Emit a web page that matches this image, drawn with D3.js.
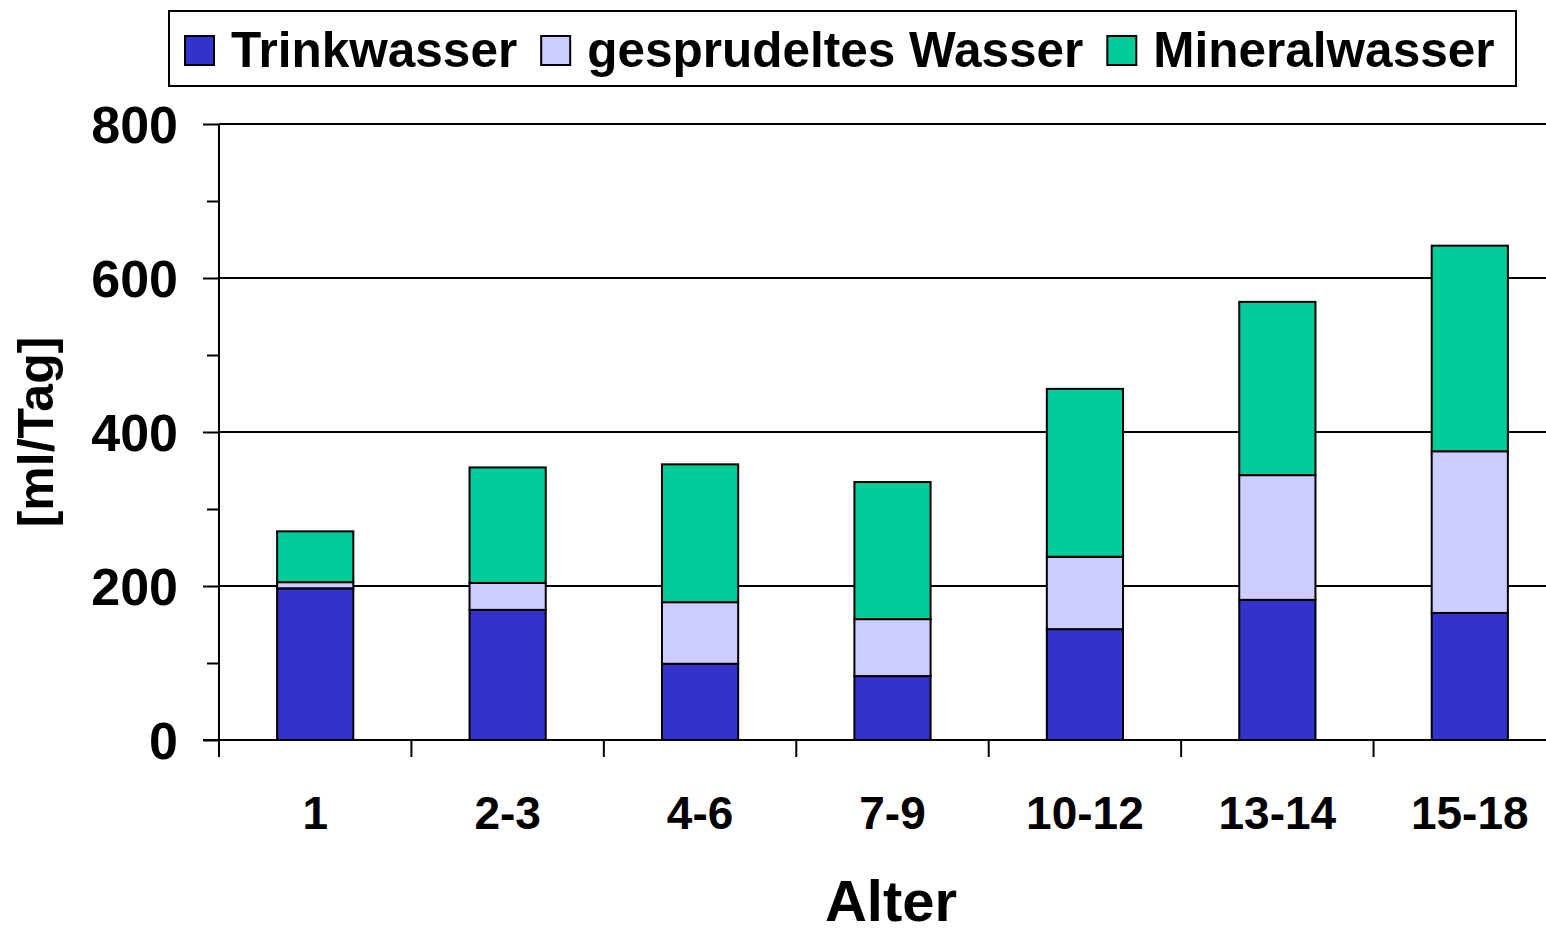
<!DOCTYPE html>
<meta charset="utf-8">
<style>
body{ margin:0; background:#fff; }
text{ font-family: Arial, "Liberation Sans", sans-serif; font-weight:bold; fill:#000; }
.grid line{ stroke:#000; stroke-width:2px; }
.axis path, .axis line{ stroke:#000; stroke-width:2px; }
.bars rect{ stroke:#000; stroke-width:2px; }
</style>
<body>
<script src="https://d3js.org/d3.v7.min.js"></script>
<script>
// Alter (Jahre) und Wasserverbrauch in ml/Tag
var categories = ["1", "2-3", "4-6", "7-9", "10-12", "13-14", "15-18"];
var seriesNames = ["Trinkwasser", "gesprudeltes Wasser", "Mineralwasser"];
var trinkwasser = [197, 169, 99, 83, 144, 182, 165];
var gesprudelt  = [8, 35, 80, 74, 94, 162, 210];
var mineral     = [66, 150, 179, 178, 218, 225, 267];
var yTicks      = [0, 200, 400, 600, 800];
var yMinorTicks = [100, 300, 500, 700];

var colors = ["#3333CC", "#CCCCFF", "#00CC99"];

var W = 1546, H = 928;
var svg = d3.select("body").append("svg").attr("width", W).attr("height", H);

var plotLeft = 219, plotRight = 1566, plotTop = 124, plotBottom = 740;

var x = d3.scaleBand().domain(categories).range([plotLeft, plotRight])
  .paddingInner(0.604).paddingOuter(0.302);
var y = d3.scaleLinear().domain([0, 800]).range([plotBottom, plotTop]);

// Tabelle fuer d3.stack
var table = categories.map(function(c, i){
  return {cat: c, "Trinkwasser": trinkwasser[i], "gesprudeltes Wasser": gesprudelt[i], "Mineralwasser": mineral[i]};
});
var stacked = d3.stack().keys(seriesNames)(table);

// Gitterlinien
svg.append("g").attr("class", "grid")
  .selectAll("line").data(yTicks.filter(d => d > 0)).join("line")
  .attr("x1", plotLeft).attr("x2", W + 20)
  .attr("y1", d => y(d)).attr("y2", d => y(d));

// Balken
svg.append("g").attr("class", "bars")
  .selectAll("g").data(stacked).join("g")
  .attr("fill", (d, i) => colors[i])
  .selectAll("rect").data(d => d).join("rect")
  .attr("x", d => x(d.data.cat))
  .attr("width", x.bandwidth())
  .attr("y", d => y(d[1]))
  .attr("height", d => y(d[0]) - y(d[1]));

// y-Achse: kleine Striche
svg.append("g").attr("class", "axis")
  .attr("transform", "translate(" + plotLeft + ",0)")
  .call(d3.axisLeft(y).tickValues(yMinorTicks).tickSize(12).tickSizeOuter(0).tickFormat(""))
  .call(g => g.select(".domain").remove());

// y-Achse: Hauptstriche mit Beschriftung
var yAxis = svg.append("g").attr("class", "axis")
  .attr("transform", "translate(" + plotLeft + ",0)")
  .call(d3.axisLeft(y).tickValues(yTicks).tickSize(16).tickSizeOuter(0).tickPadding(25));
yAxis.select(".domain").attr("d", "M0," + (plotBottom + 17) + "V" + plotTop);
yAxis.selectAll("text").style("font-size", "52px").attr("dy", "0.35em");

// x-Achse
var xAxis = svg.append("g").attr("class", "axis");
xAxis.append("line")
  .attr("x1", plotLeft - 16).attr("x2", W + 20)
  .attr("y1", plotBottom).attr("y2", plotBottom);
var bounds = categories.map(c => x(c) + x.bandwidth() / 2 + x.step() / 2);
xAxis.selectAll("line.tick").data(bounds).join("line").attr("class", "tick")
  .attr("x1", d => d).attr("x2", d => d)
  .attr("y1", plotBottom).attr("y2", plotBottom + 17);

svg.append("g").selectAll("text").data(categories).join("text")
  .attr("x", d => x(d) + x.bandwidth() / 2)
  .attr("y", 829)
  .attr("text-anchor", "middle")
  .style("font-size", "46px")
  .text(d => d);

// Achsentitel
svg.append("text")
  .attr("x", (plotLeft + 1563) / 2).attr("y", 921)
  .attr("text-anchor", "middle")
  .style("font-size", "58px")
  .text("Alter");

svg.append("text")
  .attr("transform", "translate(53," + ((plotTop + plotBottom) / 2) + ") rotate(-90)")
  .attr("text-anchor", "middle")
  .style("font-size", "50px")
  .text("[ml/Tag]");

// Legende
var legend = svg.append("g");
legend.append("rect")
  .attr("x", 169).attr("y", 11).attr("width", 1347).attr("height", 75)
  .attr("fill", "#fff").attr("stroke", "#000").attr("stroke-width", 2);

var lx = 185;
seriesNames.forEach(function(name, i){
  legend.append("rect")
    .attr("x", lx).attr("y", 36).attr("width", 29).attr("height", 29)
    .attr("fill", colors[i]).attr("stroke", "#000").attr("stroke-width", 2);
  var t = legend.append("text")
    .attr("x", lx + 46).attr("y", 67)
    .style("font-size", "49.5px")
    .text(name);
  lx += 46 + t.node().getComputedTextLength() + 24;
});
</script>
</body>
</html>
